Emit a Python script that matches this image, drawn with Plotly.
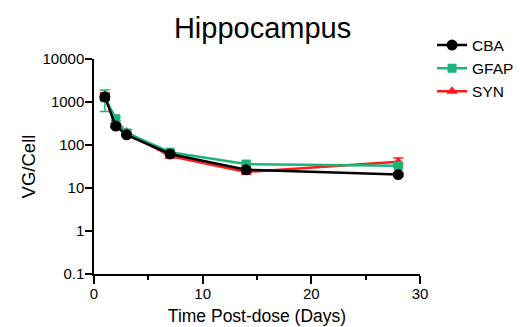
import plotly.graph_objects as go

# Vector genome copies per cell in hippocampus over time
days = [1, 2, 3, 7, 14, 28]
cba = [1320, 275, 172, 62, 26.5, 20.5]
cba_err = [200, 25, 12, 5, 2, 1.5]
gfap = [1250, 410, 190, 68, 36, 33]
gfap_err = [650, 40, 15, 6, 3, 3]
syn = [1400, 290, 200, 55, 23.5, 41]
syn_err = [250, 30, 25, 5, 2.5, 9]

RED = "#ff1a1a"
GREEN = "#1db47c"

fig = go.Figure()

fig.add_trace(go.Scatter(
    x=days, y=syn, name="SYN", mode="lines+markers",
    line=dict(color=RED, width=2.5),
    marker=dict(symbol="triangle-up", size=10, color=RED),
    error_y=dict(type="data", array=syn_err, color=RED, thickness=1.5, width=5),
    legendrank=3,
))
fig.add_trace(go.Scatter(
    x=days, y=gfap, name="GFAP", mode="lines+markers",
    line=dict(color=GREEN, width=2.5),
    marker=dict(symbol="square", size=9, color=GREEN),
    error_y=dict(type="data", array=gfap_err, color=GREEN, thickness=1.5, width=5),
    legendrank=2,
))
fig.add_trace(go.Scatter(
    x=days, y=cba, name="CBA", mode="lines+markers",
    line=dict(color="black", width=2.5),
    marker=dict(symbol="circle", size=11, color="black"),
    error_y=dict(type="data", array=cba_err, color="black", thickness=1.5, width=5),
    legendrank=1,
))

fig.update_layout(
    width=520, height=327,
    margin=dict(l=94, r=100, t=59, b=53, autoexpand=False),
    paper_bgcolor="white", plot_bgcolor="white",
    font=dict(family="Liberation Sans, Arial, sans-serif", size=15, color="black"),
    title=dict(text="Hippocampus", x=0.505, xanchor="center", y=0.915, yanchor="middle",
               font=dict(size=29)),
    legend=dict(x=1.037, y=1.142, xanchor="left", yanchor="top",
                font=dict(size=15.5), itemwidth=30, tracegroupgap=0,
                bgcolor="rgba(0,0,0,0)"),
    showlegend=True,
)

fig.update_xaxes(
    range=[0, 30], tick0=0, dtick=10, showgrid=False, zeroline=False,
    showline=True, linecolor="black", linewidth=1.5,
    ticks="outside", ticklen=8, tickcolor="black", tickwidth=1.5,
    ticklabelstandoff=-3,
    minor=dict(ticks="outside", ticklen=4, tickcolor="black", tickwidth=1.5,
               tick0=0, dtick=5, showgrid=False),
    title=dict(text="Time Post-dose (Days)", font=dict(size=17.5), standoff=9),
)
fig.update_yaxes(
    type="log", range=[-1, 4], tickvals=[0.1, 1, 10, 100, 1000, 10000],
    ticktext=["0.1", "1", "10", "100", "1000", "10000"],
    showgrid=False, zeroline=False,
    showline=True, linecolor="black", linewidth=1.5,
    ticks="outside", ticklen=7, tickcolor="black", tickwidth=1.5,
    ticklabelstandoff=-2,
    title=dict(text="VG/Cell", font=dict(size=18.5), standoff=2),
)

fig.write_html("out.html")
